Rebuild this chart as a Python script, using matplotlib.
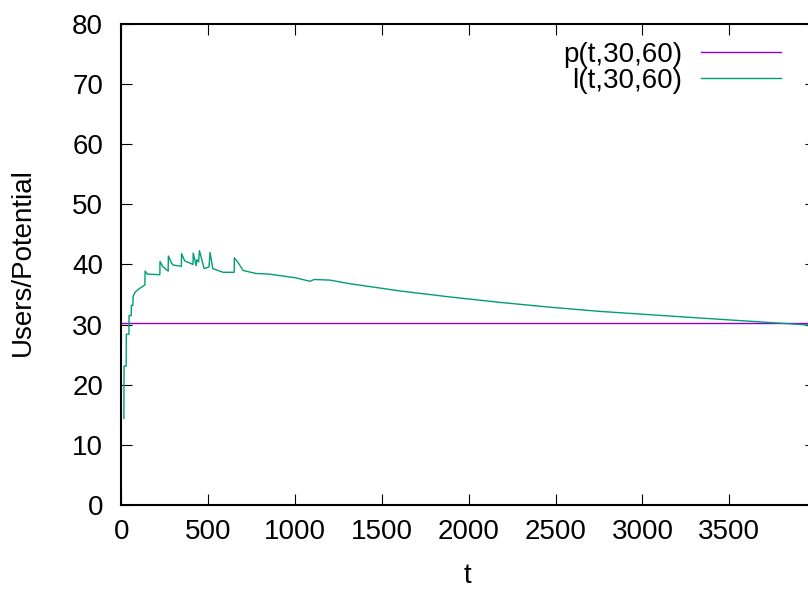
import matplotlib
matplotlib.use('Agg')
import matplotlib.pyplot as plt
import numpy as np

plt.rcParams['font.family'] = ['Liberation Sans', 'DejaVu Sans']
plt.rcParams['font.size'] = 20

# potential p(t,30,60) - flat line
p_t = [0, 4000]
p_v = [30.25, 30.25]

# users l(t,30,60)
l_t = [15, 16, 28, 29, 44, 45, 57, 58, 67, 68, 80, 100, 136, 137, 150, 222, 223,
       240, 270, 271, 290, 299, 346, 347, 365, 413, 414, 431, 435, 445, 450, 477,
       505, 511, 527, 586, 650, 651, 675, 701, 776, 850, 1000, 1086, 1110, 1200,
       1316, 1603, 1891, 2178, 2466, 2753, 3328, 3730, 4000]
l_v = [14.4, 23.1, 23.1, 28.4, 28.4, 31.5, 31.5, 33.2, 33.2, 34.7, 35.4, 35.9, 36.6, 38.9, 38.4, 38.3, 40.5,
       39.6, 38.9, 41.4, 40.2, 39.9, 39.7, 41.8, 40.6, 40.0, 41.9, 39.8, 40.8, 40.4, 42.3, 39.3,
       39.6, 42.0, 39.3, 38.7, 38.7, 41.1, 40.2, 39.0, 38.5, 38.4, 37.8, 37.2, 37.5, 37.4,
       36.8, 35.6, 34.6, 33.7, 32.9, 32.2, 31.1, 30.35, 29.85]

xticks = [0, 500, 1000, 1500, 2000, 2500, 3000, 3500]
yticks = [0, 10, 20, 30, 40, 50, 60, 70, 80]

fig = plt.figure(figsize=(8.08, 5.90), dpi=100)
ax = fig.add_axes([0.1501, 0.1441, 0.860, 0.8153])

ax.plot(p_t, p_v, color='#9400d3', lw=1.0, label='p(t,30,60)')
ax.plot(l_t, l_v, color='#009e73', lw=1.0, label='l(t,30,60)')

ax.set_xlim(0, 4000)
ax.set_ylim(0, 80)
ax.set_xticks(xticks)
ax.set_yticks(yticks)
ax.tick_params(direction='in', length=8, width=0.8, top=True, right=True)
ax.tick_params(axis='x', pad=10)
ax.tick_params(axis='y', pad=13)
for s in ax.spines.values():
    s.set_linewidth(1.5)

# axis labels placed by hand like gnuplot
fig.text(23/808, 1-262/590, 'Users/Potential', rotation=90, ha='center', va='center')
fig.text(467/808, 1-576/590, 't', ha='center', va='center')

ax.legend(loc='upper right', bbox_to_anchor=(780.7/808, 1-42/590), bbox_transform=fig.transFigure,
          frameon=False, markerfirst=False, handlelength=2.87, handletextpad=0.68,
          labelspacing=0.0, borderpad=0, borderaxespad=0)

fig.savefig('out.png', dpi=100)
